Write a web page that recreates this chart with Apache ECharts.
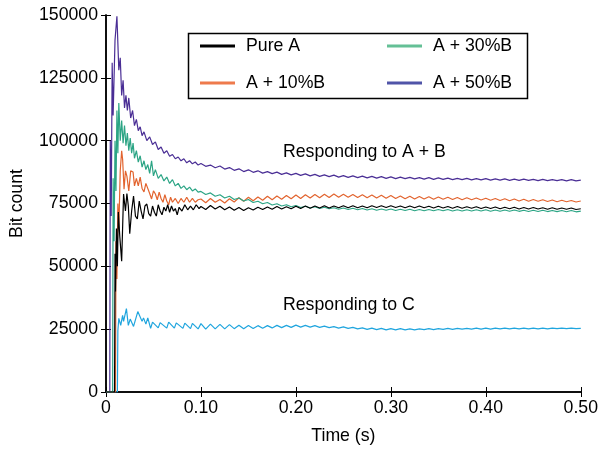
<!DOCTYPE html>
<html>
<head>
<meta charset="utf-8">
<script src="https://cdn.jsdelivr.net/npm/echarts@6/dist/echarts.min.js"></script>
<style>html,body{margin:0;padding:0;background:#fff;}#c{width:601px;height:450px;}</style>
</head>
<body>
<div id="c"></div>
<script>
// values in thousands of bits
const seriesNames = ['Pure A', 'A + 10%B', 'A + 30%B', 'A + 50%B', 'Responding to C'];
const seriesColors = ['#000000', '#e2642f', '#2ca585', '#4a2e95', '#1fa5de'];
const legendColors = ['#000000', '#ee7a4c', '#64c096', '#5054a8'];
const xTickLabels = ['0', '0.10', '0.20', '0.30', '0.40', '0.50'];

// shared time grid of the settled part (s)
const tailTime = [
  0.100,0.105,0.110,0.115,0.120,0.125,0.130,0.135,0.140,0.145,
  0.150,0.155,0.160,0.165,0.170,0.175,0.180,0.185,0.190,0.195,
  0.200,0.205,0.210,0.215,0.220,0.225,0.230,0.235,0.240,0.245,
  0.250,0.255,0.260,0.265,0.270,0.275,0.280,0.285,0.290,0.295,
  0.300,0.305,0.310,0.315,0.320,0.325,0.330,0.335,0.340,0.345,
  0.350,0.355,0.360,0.365,0.370,0.375,0.380,0.385,0.390,0.395,
  0.400,0.405,0.410,0.415,0.420,0.425,0.430,0.435,0.440,0.445,
  0.450,0.455,0.460,0.465,0.470,0.475,0.480,0.485,0.490,0.495,
  0.500
];

// early transient [time, kbits]
const pureAEarly = [[0,0],[0.009,0],[0.0095,55],[0.010,40],[0.011,65],[0.012,50],[0.013,71.6],[0.0145,62],[0.0165,52],[0.0185,78.8],[0.0205,72],[0.022,79],[0.0235,74],[0.025,63],[0.027,72],[0.029,78],[0.031,70],[0.033,68.9],[0.035,76],[0.037,72],[0.039,68.9],[0.041,74],[0.043,74.8],[0.045,71],[0.047,70],[0.049,74],[0.051,71.5],[0.053,70],[0.055,74.5],[0.057,72],[0.059,70.5],[0.061,73.5],[0.063,72],[0.065,74.5],[0.067,71.5],[0.069,74],[0.071,72],[0.073,73],[0.075,70.5],[0.077,73.5],[0.080,72],[0.083,74.5],[0.086,72.5],[0.089,74],[0.092,72.5],[0.095,74.5],[0.098,73]];
const a10Early = [[0,0],[0.010,0],[0.0105,60],[0.0115,45],[0.0125,75],[0.0135,65],[0.015,88],[0.0165,96],[0.0175,92.6],[0.019,80.7],[0.0205,88],[0.022,85.9],[0.024,80],[0.026,88],[0.0285,87.5],[0.030,82],[0.032,85],[0.034,82],[0.036,85.5],[0.038,81],[0.040,79.6],[0.042,83],[0.044,82.7],[0.046,79],[0.048,76.8],[0.050,80],[0.052,78.8],[0.054,76.5],[0.056,79.5],[0.058,77],[0.060,75.5],[0.062,78.5],[0.064,76],[0.066,74.5],[0.068,77.5],[0.070,75.5],[0.073,77],[0.076,75],[0.079,77],[0.082,75.5],[0.085,77.5],[0.088,75.5],[0.091,77],[0.094,75.5],[0.097,76.5]];
const a30Early = [[0,0],[0.007,0],[0.0075,85],[0.0085,60],[0.0095,100],[0.0105,80],[0.0115,112],[0.0125,95],[0.0135,115],[0.015,100],[0.0165,108],[0.018,99],[0.0195,106],[0.021,98],[0.0225,103],[0.024,96],[0.0255,101],[0.027,95],[0.0285,99],[0.030,93],[0.032,96],[0.034,91.5],[0.036,94],[0.038,89.5],[0.040,92],[0.042,88.5],[0.044,90.5],[0.046,87],[0.048,92],[0.050,86],[0.052,88.5],[0.055,85],[0.058,86.5],[0.061,84],[0.064,85.5],[0.067,83],[0.070,84.5],[0.073,82],[0.076,83],[0.079,81],[0.082,82],[0.085,80.5],[0.088,81.5],[0.091,80],[0.094,80.8],[0.097,79.5]];
const a50Early = [[0,0],[0.004,0],[0.0045,100],[0.0055,70],[0.0065,131],[0.0075,110],[0.0095,140],[0.0115,149.5],[0.0135,128],[0.015,133],[0.0165,118],[0.018,124],[0.0195,113],[0.021,118],[0.0225,112],[0.024,117],[0.026,109],[0.028,112],[0.030,106],[0.032,108.5],[0.034,104],[0.036,105.5],[0.038,102],[0.040,103.5],[0.043,100],[0.046,101.5],[0.049,98.5],[0.052,99.5],[0.055,96.5],[0.058,97.5],[0.061,95],[0.064,96],[0.067,93.8],[0.070,94.5],[0.073,92.8],[0.076,93.5],[0.079,92],[0.082,92.8],[0.085,91.2],[0.088,92],[0.091,90.8],[0.094,91.5],[0.097,90.3]];
const cEarly = [[0,0],[0.012,0],[0.0125,24.5],[0.0135,29.3],[0.0155,26.5],[0.0175,30.5],[0.0185,28.1],[0.0215,33.2],[0.0235,26.5],[0.0255,29.0],[0.0275,28.5],[0.029,26.1],[0.0335,32.0],[0.038,28.1],[0.0395,29.5],[0.042,27.0],[0.044,29.5],[0.047,25.3],[0.049,27.8],[0.055,25.5],[0.057,27.6],[0.064,25.4],[0.066,27.8],[0.072,25.4],[0.074,27.5],[0.081,25.3],[0.083,27.4],[0.089,25.2],[0.091,27.3],[0.097,25.1]];

// settled part on tailTime
const pureATail = [
  73.8,72.6,74.2,72.8,73.9,72.5,73.6,72.3,73.4,72.2,
  73.3,72.4,73.5,72.6,73.6,72.7,73.8,72.8,73.7,72.9,
  73.9,73.0,74.0,73.1,74.0,73.2,74.1,73.2,74.0,73.3,
  74.1,73.3,74.1,73.3,74.0,73.3,74.1,73.4,74.1,73.4,
  74.1,73.4,74.0,73.3,74.0,73.3,74.0,73.3,73.9,73.2,
  73.9,73.2,73.8,73.1,73.8,73.1,73.7,73.1,73.7,73.0,
  73.6,73.0,73.6,72.9,73.5,72.9,73.5,72.8,73.4,72.8,
  73.4,72.8,73.3,72.7,73.3,72.7,73.2,72.7,73.2,72.6,
  72.9
];
const a10Tail = [
  76.8,75.3,77.0,75.5,76.6,75.2,76.9,75.6,77.3,75.9,
  77.5,76.1,77.6,76.3,77.9,76.5,78.0,76.7,78.2,76.9,
  78.4,77.0,78.5,77.2,78.6,77.3,78.7,77.4,78.8,77.5,
  78.7,77.5,78.6,77.4,78.5,77.3,78.4,77.2,78.3,77.1,
  78.2,77.0,78.0,76.9,77.9,76.8,77.8,76.8,77.7,76.7,
  77.6,76.7,77.5,76.6,77.4,76.5,77.3,76.5,77.2,76.4,
  77.1,76.3,77.0,76.2,76.9,76.1,76.8,76.0,76.7,75.9,
  76.6,75.9,76.5,75.8,76.4,75.7,76.3,75.7,76.2,75.6,
  76.0
];
const a30Tail = [
  79.8,78.6,79.2,77.9,78.5,77.2,77.9,76.6,77.2,76.0,
  76.6,75.4,75.9,74.9,75.4,74.4,74.9,74.0,74.5,73.7,
  74.2,73.4,73.9,73.2,73.7,73.0,73.5,72.9,73.3,72.7,
  73.2,72.6,73.1,72.5,73.0,72.4,72.9,72.3,72.8,72.3,
  72.8,72.2,72.7,72.2,72.7,72.1,72.6,72.1,72.6,72.1,
  72.6,72.1,72.6,72.0,72.5,72.0,72.5,72.0,72.5,72.0,
  72.5,71.9,72.4,71.9,72.4,71.9,72.4,71.9,72.3,71.8,
  72.3,71.8,72.3,71.8,72.2,71.8,72.2,71.7,72.2,71.7,
  72.0
];
const a50Tail = [
  90.9,89.8,90.3,89.2,89.9,88.7,89.3,88.2,88.8,87.7,
  88.4,87.4,88.0,87.1,87.7,86.9,87.5,86.6,87.2,86.4,
  87.0,86.2,86.8,86.0,86.6,85.8,86.4,85.7,86.3,85.5,
  86.1,85.4,86.0,85.3,85.9,85.2,85.8,85.1,85.7,85.0,
  85.6,84.9,85.5,84.9,85.4,84.8,85.3,84.7,85.3,84.6,
  85.2,84.6,85.1,84.5,85.0,84.5,85.0,84.4,84.9,84.4,
  84.9,84.3,84.8,84.3,84.8,84.2,84.7,84.2,84.7,84.2,
  84.6,84.1,84.6,84.1,84.5,84.1,84.5,84.0,84.5,84.0,
  84.3
];
const cTail = [
  27.2,25.0,27.0,25.1,26.9,25.1,26.8,25.2,26.6,25.2,
  26.5,25.3,26.4,25.4,26.4,25.5,26.5,25.6,26.5,25.7,
  26.6,25.8,26.5,25.8,26.4,25.7,26.2,25.6,26.0,25.4,
  25.9,25.3,25.7,25.1,25.5,24.9,25.4,24.8,25.3,24.7,
  25.2,24.7,25.2,24.7,25.1,24.7,25.1,24.8,25.2,24.8,
  25.2,24.9,25.3,24.9,25.3,25.0,25.3,25.0,25.4,25.0,
  25.4,25.0,25.4,25.1,25.4,25.1,25.4,25.1,25.4,25.1,
  25.4,25.1,25.4,25.1,25.4,25.2,25.4,25.2,25.4,25.2,
  25.3
];

const earlyParts = [pureAEarly, a10Early, a30Early, a50Early, cEarly];
const tailParts = [pureATail, a10Tail, a30Tail, a50Tail, cTail];

function build(i) {
  const pts = earlyParts[i].map(p => [p[0], p[1] * 1000]);
  tailParts[i].forEach((v, k) => pts.push([tailTime[k], v * 1000]));
  return pts;
}

const FONT = 'Liberation Sans';
const FS = 17.7;
const chart = echarts.init(document.getElementById('c'), null, {renderer: 'canvas'});

const axisLineStyle = {color: '#000', width: 1.5};
const legendBase = {
  icon: 'rect', itemWidth: 35, itemHeight: 3, selectedMode: false, padding: 0,
  textStyle: {fontFamily: FONT, fontSize: FS, color: '#000', lineHeight: 20, padding: [0, 0, 0, 6]}
};
function legendItem(i) {
  return [{name: seriesNames[i], itemStyle: {color: legendColors[i]}}];
}

chart.setOption({
  animation: false,
  backgroundColor: '#fff',
  grid: {left: 105, right: 17, top: 15, bottom: 56, containLabel: false},
  xAxis: [{
    type: 'value', min: 0, max: 0.5, interval: 0.1,
    name: 'Time (s)', nameLocation: 'middle', nameGap: 35,
    nameTextStyle: {fontFamily: FONT, fontSize: FS, color: '#000'},
    axisLine: {show: true, lineStyle: axisLineStyle},
    axisTick: {show: true, inside: true, length: 5, lineStyle: {color: '#000', width: 1}},
    axisLabel: {fontFamily: FONT, fontSize: FS, color: '#000', margin: 7,
      formatter: v => xTickLabels[Math.round(v / 0.1)]},
    splitLine: {show: false}
  }, {
    type: 'value', min: 0, max: 0.5, interval: 0.1, position: 'top',
    axisLine: {show: true, lineStyle: axisLineStyle},
    axisTick: {show: true, inside: true, length: 5, lineStyle: {color: '#000', width: 1}},
    axisLabel: {show: false}, splitLine: {show: false}
  }],
  yAxis: [{
    type: 'value', min: 0, max: 150000, interval: 25000,
    name: 'Bit count', nameLocation: 'middle', nameGap: 80, nameRotate: 90,
    nameTextStyle: {fontFamily: FONT, fontSize: FS, color: '#000'},
    axisLine: {show: true, lineStyle: axisLineStyle},
    axisTick: {show: true, inside: true, length: 5, lineStyle: {color: '#000', width: 1}},
    axisLabel: {fontFamily: FONT, fontSize: FS, color: '#000', margin: 8, formatter: v => String(v)},
    splitLine: {show: false}
  }, {
    type: 'value', min: 0, max: 150000, interval: 25000, position: 'right',
    axisLine: {show: true, lineStyle: axisLineStyle},
    axisTick: {show: true, inside: true, length: 5, lineStyle: {color: '#000', width: 1}},
    axisLabel: {show: false}, splitLine: {show: false}
  }],
  legend: [
    Object.assign({}, legendBase, {data: legendItem(0), left: 200, top: 36}),
    Object.assign({}, legendBase, {data: legendItem(1), left: 200, top: 73}),
    Object.assign({}, legendBase, {data: legendItem(2), left: 387, top: 36}),
    Object.assign({}, legendBase, {data: legendItem(3), left: 387, top: 73})
  ],
  graphic: [
    {type: 'rect', shape: {x: 188.5, y: 33.5, width: 339, height: 65}, style: {fill: 'none', stroke: '#000', lineWidth: 1.5}, z: 100},
    {type: 'text', x: 283, y: 152, style: {text: 'Responding to A + B', fontFamily: FONT, fontSize: FS, fill: '#000', verticalAlign: 'middle'}, z: 100},
    {type: 'text', x: 283, y: 305, style: {text: 'Responding to C', fontFamily: FONT, fontSize: FS, fill: '#000', verticalAlign: 'middle'}, z: 100}
  ],
  series: seriesNames.map((n, i) => ({
    name: n, type: 'line', data: build(i), showSymbol: false, symbol: 'none',
    color: seriesColors[i], lineStyle: {width: 1.2, color: seriesColors[i]},
    z: [5, 3, 4, 2, 2][i]
  }))
});
</script>
</body>
</html>
